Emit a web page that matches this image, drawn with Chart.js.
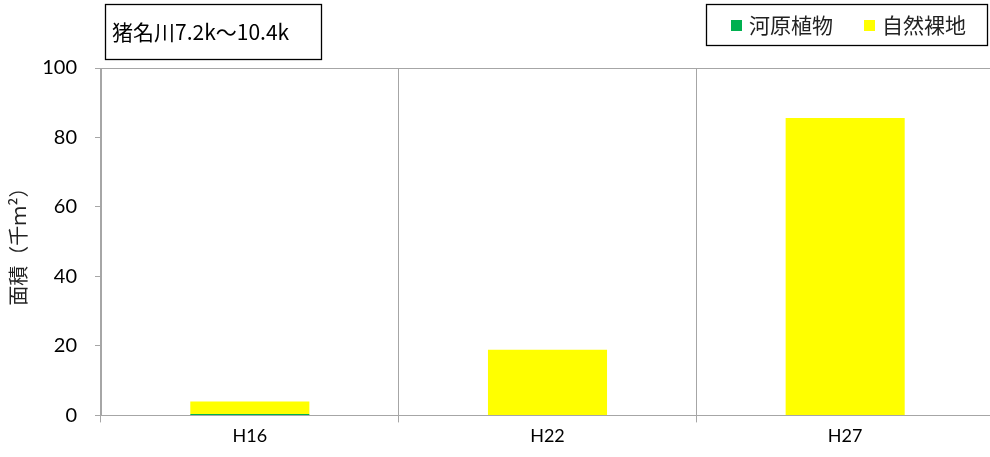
<!DOCTYPE html>
<html><head><meta charset="utf-8">
<script src="https://cdn.jsdelivr.net/npm/chart.js@4/dist/chart.umd.min.js"></script>
<style>html,body{margin:0;padding:0;background:#fff;overflow:hidden}#wrap{width:990px;height:457px;overflow:hidden}</style>
</head><body><div id="wrap"><canvas id="c" width="994" height="457"></canvas></div>
<script>
const categories = ['H16', 'H22', 'H27'];
const riverPlants = [0.4, 0, 0];
const bareGround = [3.6, 18.9, 85.6];
const yTicks = [0, 20, 40, 60, 80, 100];
const chartTitle = '猪名川7.2k～10.4k';
const yTitle = '面積（千ｍ²）';

const FONT = "Lato, 'Noto Sans CJK JP', sans-serif";
const JFONT = "'Noto Sans CJK JP', sans-serif";
const GRID = '#a6a6a6';

const boxes = {
  id: 'boxes',
  afterDraw(chart) {
    const ctx = chart.ctx;
    ctx.save();
    ctx.strokeStyle = '#000'; ctx.lineWidth = 1.3;
    ctx.fillStyle = '#fff';
    ctx.fillRect(105, 4, 217, 56);
    ctx.strokeRect(105.5, 4.5, 216, 55);
    ctx.fillStyle = '#000';
    ctx.font = "21px " + JFONT;
    ctx.textBaseline = 'middle';
    ctx.textAlign = 'left';
    ctx.fillText(chartTitle, 112, 32);
    ctx.fillStyle = '#fff';
    ctx.fillRect(706, 4, 282, 42);
    ctx.strokeRect(706.5, 4.5, 281, 41);
    const items = chart.data.datasets;
    const xs = [731, 864];
    ctx.font = "21px " + JFONT;
    items.forEach((ds, i) => {
      ctx.fillStyle = ds.backgroundColor;
      ctx.fillRect(xs[i], 20, 11, 11);
      ctx.fillStyle = '#222';
      ctx.fillText(ds.label, xs[i] + 18, 25);
    });
    ctx.restore();
  }
};

new Chart(document.getElementById('c'), {
  type: 'bar',
  data: {
    labels: categories,
    datasets: [
      { label: '河原植物', data: riverPlants, backgroundColor: '#00b050', barPercentage: 0.4, categoryPercentage: 1 },
      { label: '自然裸地', data: bareGround, backgroundColor: '#ffff00', barPercentage: 0.4, categoryPercentage: 1 }
    ]
  },
  options: {
    responsive: false,
    animation: false,
    devicePixelRatio: 1,
    layout: { padding: { top: 68, right: 0, left: 2, bottom: 7 } },
    plugins: { legend: { display: false }, title: { display: false }, tooltip: { enabled: false } },
    scales: {
      x: {
        stacked: true,
        offset: true,
        grid: { offset: true, color: GRID, lineWidth: 1, tickLength: 7, drawOnChartArea: true },
        border: { color: GRID },
        ticks: { font: { family: FONT, size: 18 }, color: '#000', padding: 3 }
      },
      y: {
        stacked: true,
        min: 0, max: 100,
        afterBuildTicks(axis) { axis.ticks = yTicks.map(v => ({ value: v })); },
        afterFit(axis) { axis.width = 99; },
        grid: {
          color: ctx => (ctx.tick && (ctx.tick.value === 100 || ctx.tick.value === 0)) ? GRID : 'rgba(0,0,0,0)',
          tickColor: GRID, tickLength: 6, lineWidth: 1
        },
        border: { color: GRID },
        ticks: { font: { family: FONT, size: 20 }, color: '#000', padding: 18 },
        title: { display: true, text: yTitle, font: { family: JFONT, size: 20 }, color: '#222', padding: { bottom: 2 } }
      }
    }
  },
  plugins: [boxes]
});
</script></body></html>
